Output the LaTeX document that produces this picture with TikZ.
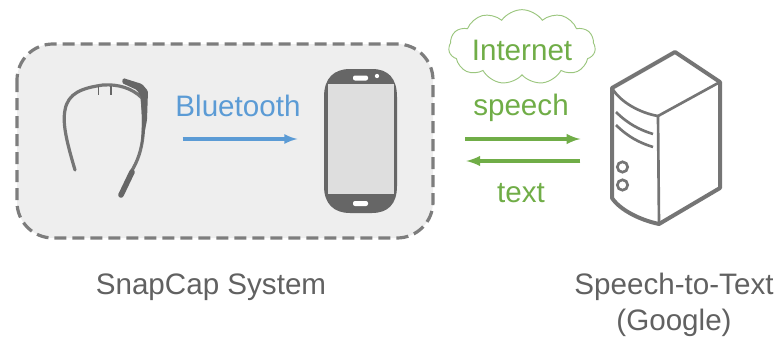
\documentclass[tikz,border=0pt]{standalone}
\usepackage{fontspec}
\setmainfont{Liberation Sans}
\usetikzlibrary{arrows,calc,shapes.symbols}
\definecolor{devgray}{HTML}{666666}
\definecolor{boxfill}{HTML}{EEEEEE}
\definecolor{screenfill}{HTML}{DEDEDE}
\definecolor{btblue}{HTML}{5B9BD5}
\definecolor{netgreen}{HTML}{70AD47}
\tikzset{
  lbl/.style={font=\fontsize{22.2}{27.5}\selectfont,inner sep=0pt,align=center},
  graylbl/.style={lbl,text=devgray!95!black},
  greenlbl/.style={lbl,text=netgreen},
  holder/.style={inner sep=0pt,outer sep=0pt},
  btarrow/.style={-latex,line width=2.3pt,btblue},
  netarrow/.style={-latex,line width=2.5pt,netgreen},
}
\begin{document}
\begin{tikzpicture}[x=0.75pt,y=-0.75pt]
\useasboundingbox (0,0) rectangle (778,339);
% system box
\draw [dashed,dash pattern=on 9pt off 4.5pt,line width=2.4pt,draw=devgray!85!white,fill=boxfill,rounded corners=27pt] (17,44) rectangle (433,238);
% holders the arrows end on
\node[holder,minimum width=63pt,minimum height=87pt] (glasses) at (106.5,139) {};
\node[holder,minimum width=54.75pt,minimum height=111pt] (phone) at (360.5,139) {};
\node[holder,minimum width=81.75pt,minimum height=111pt] (server) at (665.5,139) {};
% glasses
\draw [devgray!90!white,line width=2.4pt,line cap=round] (75,170) .. controls (68,146) and (62,125) .. (65,110) .. controls (68,93) and (82,88) .. (103,85) .. controls (118,84) and (132,88) .. (142,98) .. controls (145,125) and (145,150) .. (131,172);
\draw [devgray,line width=1.3pt] (98.5,86) -- (98.5,95);
\draw [devgray,line width=1.3pt] (111,86) -- (111,95);
\fill [devgray,rounded corners=1pt] (123,78) -- (122,83) -- (137,90) -- (141,97) -- (142,120) -- (141,150) -- (147,120) -- (148,91) -- (142,84) -- cycle;
\draw [devgray,line width=4.2pt,line cap=round] (132,172) -- (121,195);
% phone
\fill [devgray] (324,97) .. controls (324,78) and (334,69) .. (350,69) -- (372,69) .. controls (388,69) and (397,78) .. (397,97) -- (397,186) .. controls (397,204) and (388,213) .. (372,213) -- (350,213) .. controls (334,213) and (324,204) .. (324,186) -- cycle;
\fill [screenfill] (327.5,83.5) rectangle (394,194);
\fill [white,rounded corners=1.5pt] (353,75.5) rectangle (368,80.5);
\fill [white] (377,76) circle (1.6pt);
\fill [white,rounded corners=1.5pt] (353,201) rectangle (368,206);
% server
\draw [devgray!90!white,line width=3pt,line join=round] (612,88) -- (675,52) -- (720,82) -- (720,188) -- (659,224) .. controls (640,220) and (620,210) .. (612,198) -- cycle;
\draw [devgray!90!white,line width=2pt,line join=round] (612,88) .. controls (620,102) and (640,113) .. (658,116) -- (720,82);
\draw [devgray!90!white,line width=2pt] (658,116) -- (659,224);
\draw [devgray!90!white,line width=2pt] (616,112) .. controls (628,124) and (640,130) .. (653,134);
\draw [devgray!90!white,line width=2pt] (616,125) .. controls (628,137) and (640,143) .. (653,147);
\draw [devgray!90!white,line width=2pt] (622.5,167) circle (3.9pt);
\draw [devgray!90!white,line width=2pt] (622.5,185) circle (3.9pt);
% cloud
\node[greenlbl,cloud,cloud puffs=11,cloud puff arc=110,cloud ignores aspect,draw=netgreen!70!white,line width=0.7pt,fill=white,minimum width=110pt,minimum height=56pt] (net) at (522,47) {};
\node[greenlbl] (nettxt) at (522,50) {Internet};
% labels
\node[lbl,text=btblue] (btlbl) at (238,106) {Bluetooth};
\node[greenlbl] (speechlbl) at (521,108) {speech};
\node[greenlbl] (textlbl) at (521,193) {text};
\node[graylbl] (syslbl) at (211,287) {SnapCap System};
\node[graylbl] (stt) at (674,305) {Speech-to-Text\\(Google)};
% arrows
\draw [btarrow,shorten <=25.5pt,shorten >=20pt] (glasses.east) -- (phone.west);
\draw [netarrow,shorten <=51pt,shorten >=23pt] (phone.east) -- (server.west);
\draw [netarrow,shorten <=23pt,shorten >=52pt] ([yshift=-16.5pt]server.west) -- ([yshift=-16.5pt]phone.east);
\end{tikzpicture}
\end{document}
